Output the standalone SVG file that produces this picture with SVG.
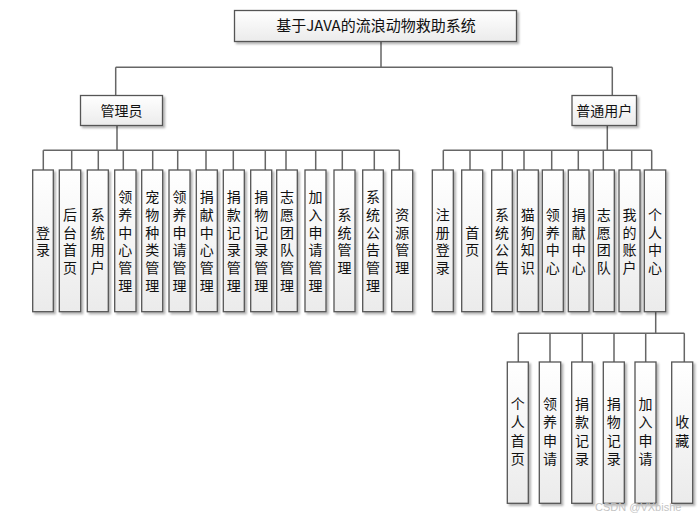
<svg xmlns="http://www.w3.org/2000/svg" width="700" height="521" viewBox="0 0 700 521">
<defs>
<linearGradient id="g" x1="0" y1="0" x2="0" y2="1">
<stop offset="0" stop-color="#ffffff"/>
<stop offset="1" stop-color="#ebebeb"/>
</linearGradient>
<filter id="sh" x="-20%" y="-20%" width="160%" height="160%">
<feDropShadow dx="2" dy="2" stdDeviation="0.8" flood-color="#000" flood-opacity="0.3"/>
</filter>
</defs>
<style>
.b{fill:url(#g);stroke:#555;stroke-width:1.3;filter:url(#sh)}
.t{font-family:"Noto Sans CJK SC","Liberation Sans",sans-serif;font-size:14px;fill:#111;text-anchor:middle}
.v{font-family:"Noto Sans CJK SC","Liberation Sans",sans-serif;font-size:14px;fill:#111;text-anchor:middle;writing-mode:tb;letter-spacing:3.7px}
.v2{font-family:"Noto Sans CJK SC","Liberation Sans",sans-serif;font-size:14px;fill:#111;text-anchor:middle;writing-mode:tb;letter-spacing:4.5px}
.tt{font-family:"Noto Sans CJK SC","Liberation Sans",sans-serif;font-size:15px;fill:#111;text-anchor:middle}
.c{stroke:#666;stroke-width:1.5;fill:none}
.wm{font-family:"Liberation Sans",sans-serif;font-size:11px;fill:#c4c4c4}
</style>
<rect width="700" height="521" fill="#fff"/>
<g id="connectors">
<path class="c" d="M381 42V67.3M115.7 67.3H612.3M115.7 67.3V95M612.3 67.3V95"/>
<path class="c" d="M117 126V150.3M43.3 150.3H399.3"/>
<path class="c" d="M43.3 150.3V170M71.7 150.3V170M98.3 150.3V170M123.3 150.3V170M152.7 150.3V170M177.7 150.3V170M206 150.3V170M233.3 150.3V170M265.3 150.3V170M286 150.3V170M315.7 150.3V170M342.3 150.3V170M374.3 150.3V170M399.3 150.3V170"/>
<path class="c" d="M607.3 126V150.3M443.3 150.3H651.7"/>
<path class="c" d="M443.3 150.3V170M470 150.3V170M502.3 150.3V170M524 150.3V170M551.7 150.3V170M578.3 150.3V170M603.3 150.3V170M631.7 150.3V170M651.7 150.3V170"/>
<path class="c" d="M655.7 312V333.3M518.3 333.3H684.3"/>
<path class="c" d="M518.3 333.3V362M550 333.3V362M582.3 333.3V362M614 333.3V362M645.7 333.3V362M684.3 333.3V362"/>
</g>
<g id="root"><rect class="b" x="234.5" y="10.5" width="282" height="31"/><text class="tt" x="376" y="31">基于JAVA的流浪动物救助系统</text></g>
<g id="admin"><rect class="b" x="80.5" y="95.5" width="82" height="30"/><text class="t" x="121.5" y="115.5">管理员</text></g>
<g id="user"><rect class="b" x="572" y="95.5" width="64.5" height="30"/><text class="t" x="604.2" y="115.5">普通用户</text></g>

<g id="a1"><rect class="b" x="32.7" y="170" width="20.6" height="141.7"/><text class="v" x="43" y="243">登录</text></g>
<g id="a2"><rect class="b" x="59.3" y="170" width="21.4" height="141.7"/><text class="v" x="70" y="243">后台首页</text></g>
<g id="a3"><rect class="b" x="87.3" y="170" width="21" height="141.7"/><text class="v" x="97.8" y="243">系统用户</text></g>
<g id="a4"><rect class="b" x="114.7" y="170" width="21.3" height="141.7"/><text class="v" x="125.3" y="243">领养中心管理</text></g>
<g id="a5"><rect class="b" x="141.7" y="170" width="21" height="141.7"/><text class="v" x="152.2" y="243">宠物种类管理</text></g>
<g id="a6"><rect class="b" x="169" y="170" width="21" height="141.7"/><text class="v" x="179.5" y="243">领养申请管理</text></g>
<g id="a7"><rect class="b" x="196.3" y="170" width="21" height="141.7"/><text class="v" x="206.8" y="243">捐献中心管理</text></g>
<g id="a8"><rect class="b" x="223.3" y="170" width="21" height="141.7"/><text class="v" x="233.8" y="243">捐款记录管理</text></g>
<g id="a9"><rect class="b" x="250.7" y="170" width="21" height="141.7"/><text class="v" x="261.2" y="243">捐物记录管理</text></g>
<g id="a10"><rect class="b" x="276.7" y="170" width="20.6" height="141.7"/><text class="v" x="287" y="243">志愿团队管理</text></g>
<g id="a11"><rect class="b" x="305" y="170" width="21" height="141.7"/><text class="v" x="315.5" y="243">加入申请管理</text></g>
<g id="a12"><rect class="b" x="334" y="170" width="21" height="141.7"/><text class="v" x="344.5" y="243">系统管理</text></g>
<g id="a13"><rect class="b" x="362.7" y="170" width="20.6" height="141.7"/><text class="v" x="373" y="243">系统公告管理</text></g>
<g id="a14"><rect class="b" x="391.7" y="170" width="21" height="141.7"/><text class="v" x="402.2" y="243">资源管理</text></g>

<g id="u1"><rect class="b" x="432.3" y="170" width="21" height="141.7"/><text class="v" x="442.8" y="243">注册登录</text></g>
<g id="u2"><rect class="b" x="461.7" y="170" width="21" height="141.7"/><text class="v" x="472.2" y="243">首页</text></g>
<g id="u3"><rect class="b" x="491.7" y="170" width="20.6" height="141.7"/><text class="v" x="502" y="243">系统公告</text></g>
<g id="u4"><rect class="b" x="517.3" y="170" width="21" height="141.7"/><text class="v" x="527.8" y="243">猫狗知识</text></g>
<g id="u5"><rect class="b" x="542.3" y="170" width="21" height="141.7"/><text class="v" x="552.8" y="243">领养中心</text></g>
<g id="u6"><rect class="b" x="568.3" y="170" width="20.7" height="141.7"/><text class="v" x="578.7" y="243">捐献中心</text></g>
<g id="u7"><rect class="b" x="593.3" y="170" width="21" height="141.7"/><text class="v" x="603.8" y="243">志愿团队</text></g>
<g id="u8"><rect class="b" x="619" y="170" width="21" height="141.7"/><text class="v" x="629.5" y="243">我的账户</text></g>
<g id="u9"><rect class="b" x="644.3" y="170" width="21.4" height="141.7"/><text class="v" x="655" y="243">个人中心</text></g>

<g id="p1"><rect class="b" x="507.3" y="362" width="21" height="141.3"/><text class="v2" x="517.8" y="433.5">个人首页</text></g>
<g id="p2"><rect class="b" x="539.3" y="362" width="21.4" height="141.3"/><text class="v2" x="550" y="433.5">领养申请</text></g>
<g id="p3"><rect class="b" x="571.7" y="362" width="20.6" height="141.3"/><text class="v2" x="582" y="433.5">捐款记录</text></g>
<g id="p4"><rect class="b" x="603.3" y="362" width="21" height="141.3"/><text class="v2" x="613.8" y="433.5">捐物记录</text></g>
<g id="p5"><rect class="b" x="635" y="362" width="21" height="141.3"/><text class="v2" x="645.5" y="433.5">加入申请</text></g>
<g id="p6"><rect class="b" x="671.7" y="362" width="21" height="141.3"/><text class="v2" x="682.2" y="433.5">收藏</text></g>

<text class="wm" x="595" y="511">CSDN @VXbishe</text>
</svg>
